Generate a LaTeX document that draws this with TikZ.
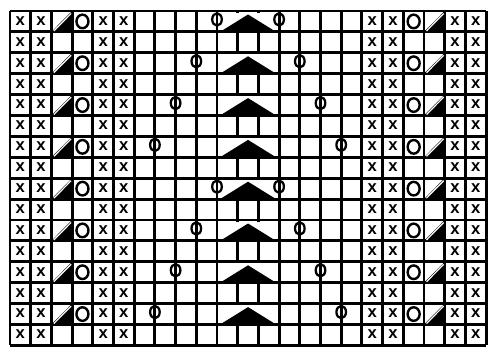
\documentclass[tikz,border=0pt]{standalone}
\usepackage{fontspec}
\setmainfont{Liberation Sans}
\begin{document}
\begin{tikzpicture}[x=0.75pt,y=-0.75pt,
  gridline/.style={line width=2.2pt,black},
  xsym/.style={font=\bfseries\fontsize{12.5}{13}\selectfont,inner sep=0pt},
  ring/.style={line width=1.8pt,black},
  smallring/.style={line width=1.7pt,black}]
\useasboundingbox (0,0) rectangle (488,347);
\fill[white] (0,0) rectangle (488,347);
\def\cw{20.7}
\def\rh{20.9}
% grid
\foreach \k in {0,...,23}{
  \draw[gridline] ({10+\cw*\k},11) -- ({10+\cw*\k},{11+\rh*16});
}
\foreach \j in {0,...,16}{
  \draw[gridline] (10,{11+\rh*\j}) -- ({10+\cw*23},{11+\rh*\j});
}
% x symbols
\foreach \r in {0,...,15}{
  \foreach \c in {0,1,4,5,17,18,21,22}{
    \node[xsym] at ({10+\cw*(\c+0.5)},{11+\rh*(\r+0.5)-0.5}) {x};
  }
}
% patterned rows
\foreach \r [count=\i from 0] in {0,2,...,14}{
  \pgfmathsetmacro{\yt}{11+\rh*\r}
  \pgfmathsetmacro{\yb}{11+\rh*(\r+1)}
  \pgfmathsetmacro{\yc}{11+\rh*(\r+0.5)}
  % diagonal cells
  \foreach \c in {2,20}{
    \pgfmathsetmacro{\xl}{10+\cw*\c}
    \pgfmathsetmacro{\xr}{10+\cw*(\c+1)}
    \fill[black] (\xl,\yb) -- (\xr,\yb) -- (\xr,\yt) -- cycle;
    \draw[white,line width=0.9pt] ({\xl+2.5},{\yb-1}) -- ({\xr-1},{\yt+2.5});
  }
  % rings in cells
  \foreach \c in {3,19}{
    \draw[ring] ({10+\cw*(\c+0.5)},\yc) ellipse [x radius=6,y radius=6.8];
  }
  % merged cell with triangle
  \fill[white] ({10+\cw*10+1.5},{\yt+1.5}) rectangle ({10+\cw*13-1.5},{\yb-1.5});
  \fill[black] ({10+\cw*10+3},\yb) -- ({10+\cw*11.5},{\yt+3.5}) -- ({10+\cw*13-3},\yb) -- cycle;
  % rings on grid lines
  \pgfmathtruncatemacro{\m}{mod(\i,4)}
  \pgfmathtruncatemacro{\ka}{10-\m}
  \pgfmathtruncatemacro{\kb}{13+\m}
  \draw[smallring] ({10+\cw*\ka},{\yc-2}) ellipse [x radius=4.8,y radius=6.2];
  \draw[smallring] ({10+\cw*\kb},{\yc-2}) ellipse [x radius=4.8,y radius=6.2];
}
\end{tikzpicture}
\end{document}
